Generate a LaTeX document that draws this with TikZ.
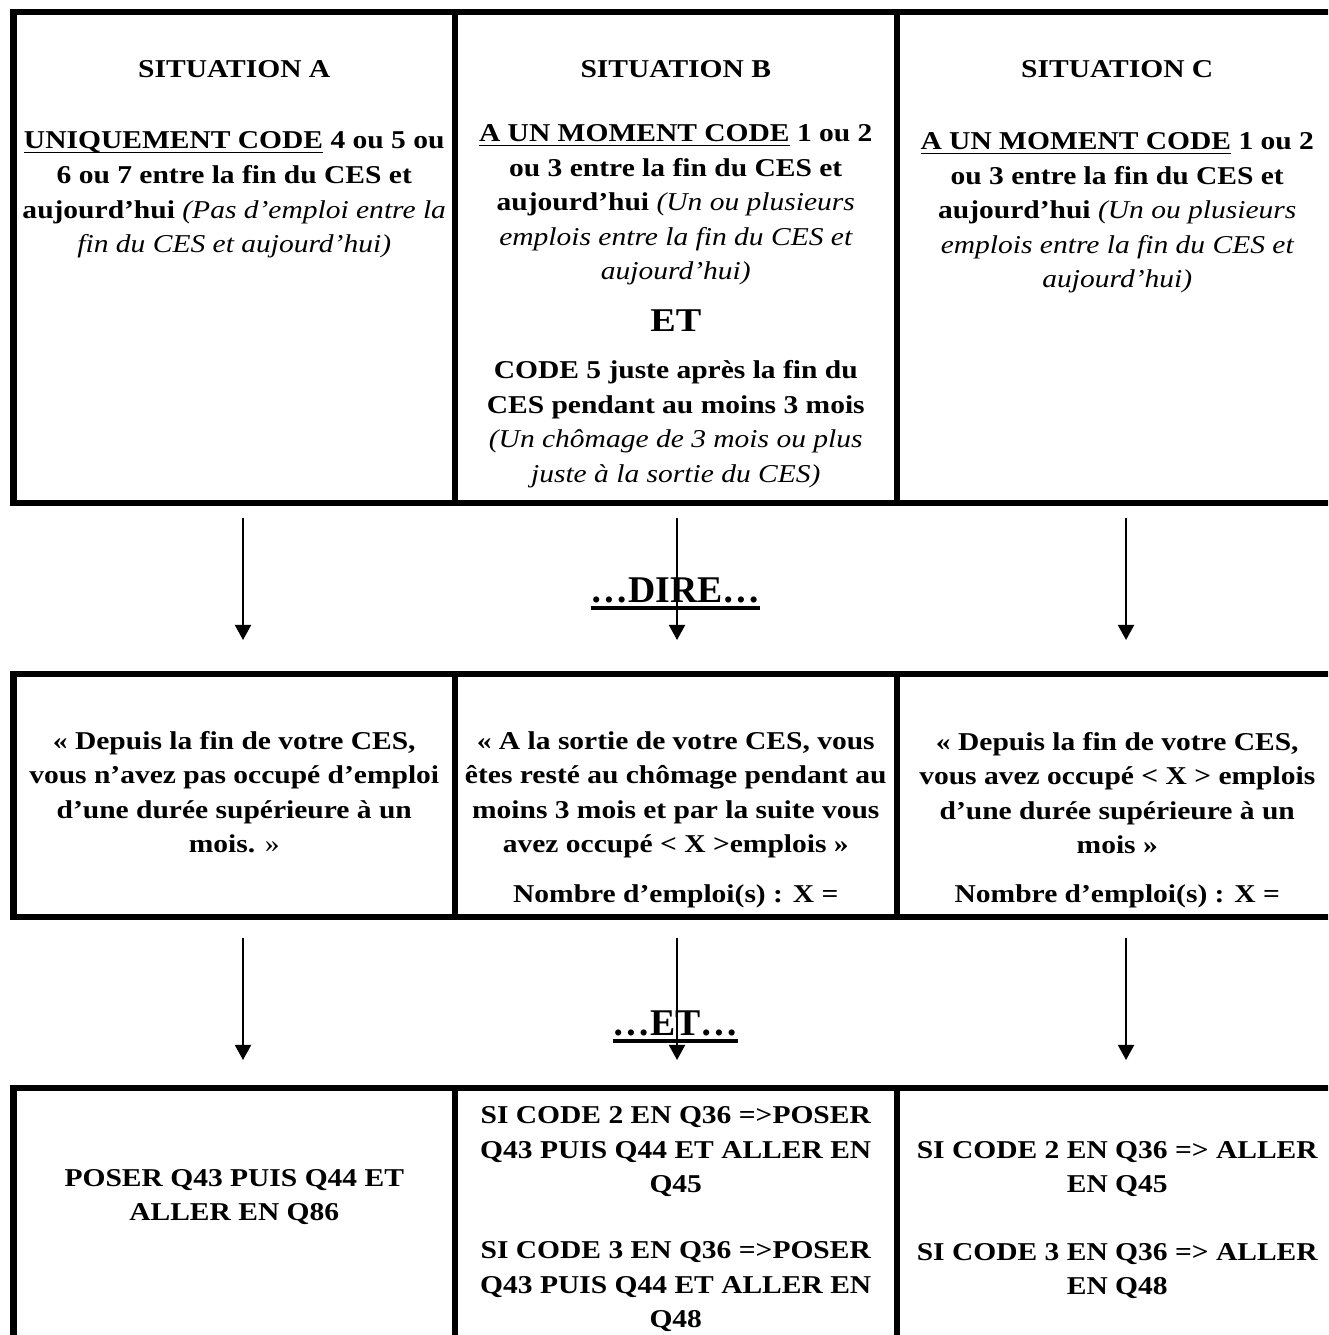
\documentclass[tikz,border=0pt]{standalone}
\usepackage{fontspec}
\setmainfont{Liberation Serif}[FakeStretch=1.15]
\newfontfamily\titrefont{Liberation Serif}
\usetikzlibrary{arrows.meta,positioning}

\newcommand\souligne[3]{\sbox0{#3}\leavevmode\rlap{\usebox0}\rule[#1]{\wd0}{#2}}
\newcommand\sou[1]{\souligne{-2.4pt}{0.85pt}{#1}}
\newcommand\ital[1]{{\mdseries\itshape #1}}

\begin{document}
\begin{tikzpicture}[x=0.53pt,y=-0.53pt,
    case/.style={draw,line width=3.2pt,rectangle,inner sep=0pt,outer sep=0pt,minimum width=234pt},
    rang1/.style={case,minimum height=260.2pt},
    rang2/.style={case,minimum height=128.8pt},
    rang3/.style={case,minimum height=138pt},
    texte/.style={font=\bfseries\fontsize{13.6}{18.3}\selectfont,align=center,inner sep=0pt},
    titre/.style={font=\titrefont\bfseries\fontsize{20}{24}\selectfont,inner sep=0pt,anchor=base},
    fleche/.style={line width=1.1pt,-{Triangle[width=8.5pt,length=8pt]}}]
\path[use as bounding box] (0,0) rectangle (1328,1335);
\clip (0,0) rectangle (1328,1335);

% les cases
\node[rang1,anchor=north west] (sitA) at (13.5,12) {};
\node[rang1,right=0pt of sitA] (sitB) {};
\node[rang1,right=0pt of sitB] (sitC) {};
\node[rang2,anchor=north west] (dirA) at (13.5,674) {};
\node[rang2,right=0pt of dirA] (dirB) {};
\node[rang2,right=0pt of dirB] (dirC) {};
\node[rang3,anchor=north west] (finA) at (13.5,1088) {};
\node[rang3,right=0pt of finA] (finB) {};
\node[rang3,right=0pt of finB] (finC) {};

% situations
\node[texte,anchor=base] (titA) at (234.25,78) {SITUATION A};
\node[texte,anchor=base] (titB) at (675.75,78) {SITUATION B};
\node[texte,anchor=base] (titC) at (1117.25,78) {SITUATION C};
\node[texte] (tA) at (234.25,195) {\sou{UNIQUEMENT CODE} 4 ou 5 ou\\6 ou 7 entre la fin du CES et\\aujourd’hui \ital{(Pas d’emploi entre la}\\\ital{fin du CES et aujourd’hui)}};
\node[texte] (tB1) at (675.75,205) {\sou{A UN MOMENT CODE} 1 ou 2\\ou 3 entre la fin du CES et\\aujourd’hui \ital{(Un ou plusieurs}\\\ital{emplois entre la fin du CES et}\\\ital{aujourd’hui)}};
\node[texte,font=\bfseries\fontsize{17.6}{20}\selectfont,anchor=base] (etB) at (675.75,332) {ET};
\node[texte] (tB2) at (675.75,424) {CODE 5 juste après la fin du\\CES pendant au moins 3 mois\\\ital{(Un chômage de 3 mois ou plus}\\\ital{juste à la sortie du CES)}};
\node[texte] (tC) at (1117.25,213) {\sou{A UN MOMENT CODE} 1 ou 2\\ou 3 entre la fin du CES et\\aujourd’hui \ital{(Un ou plusieurs}\\\ital{emplois entre la fin du CES et}\\\ital{aujourd’hui)}};

% dire
\node[titre] (dire) at (675.5,602) {\souligne{-4.2pt}{2.1pt}{…DIRE…}};
\node[texte] (dA) at (234.25,792) {« Depuis la fin de votre CES,\\vous n’avez pas occupé d’emploi\\d’une durée supérieure à un\\mois. {\mdseries »}};
\node[texte] (dB) at (675.75,795) {« A la sortie de votre CES, vous\\êtes resté au chômage pendant au\\moins 3 mois et par la suite vous\\avez occupé < X >emplois »};
\node[texte,anchor=base] (nB) at (675.75,902) {Nombre d’emploi(s) : X =};
\node[texte] (dC) at (1117.25,793) {« Depuis la fin de votre CES,\\vous avez occupé < X > emplois\\d’une durée supérieure à un\\mois »};
\node[texte,anchor=base] (nC) at (1117.25,902) {Nombre d’emploi(s) : X =};

% et
\node[titre] (et) at (675.5,1035) {\souligne{-4.2pt}{2.1pt}{…ET…}};
\node[texte] (fA) at (234.25,1197) {POSER Q43 PUIS Q44 ET\\ALLER EN Q86};
\node[texte] (fB1) at (675.75,1152) {SI CODE 2 EN Q36 =>POSER\\Q43 PUIS Q44 ET ALLER EN\\Q45};
\node[texte] (fB2) at (675.75,1287) {SI CODE 3 EN Q36 =>POSER\\Q43 PUIS Q44 ET ALLER EN\\Q48};
\node[texte] (fC1) at (1117.25,1169) {SI CODE 2 EN Q36 => ALLER\\EN Q45};
\node[texte] (fC2) at (1117.25,1271) {SI CODE 3 EN Q36 => ALLER\\EN Q48};

% fleches
\path ([shift={(8.75,15)}]sitA.south) edge[fleche] ([shift={(8.75,-34)}]dirA.north)
      ([shift={(1.25,15)}]sitB.south) edge[fleche] ([shift={(1.25,-34)}]dirB.north)
      ([shift={(8.75,15)}]sitC.south) edge[fleche] ([shift={(8.75,-34)}]dirC.north);
\path ([shift={(8.75,21)}]dirA.south) edge[fleche] ([shift={(8.75,-28)}]finA.north)
      ([shift={(1.25,21)}]dirB.south) edge[fleche] ([shift={(1.25,-28)}]finB.north)
      ([shift={(8.75,21)}]dirC.south) edge[fleche] ([shift={(8.75,-28)}]finC.north);
\end{tikzpicture}
\end{document}
